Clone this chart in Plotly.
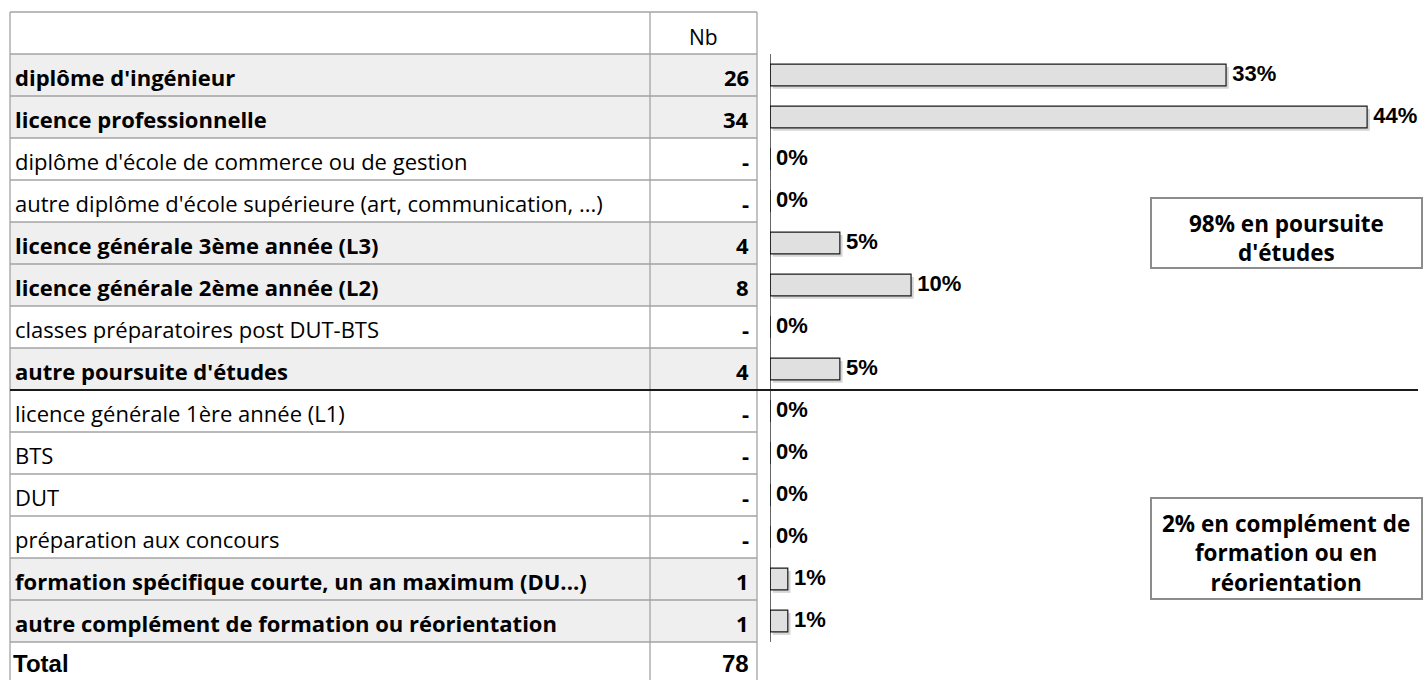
import plotly.graph_objects as go

# ---------------- data ----------------
categories = [
    "diplôme d'ingénieur",
    "licence professionnelle",
    "diplôme d'école de commerce ou de gestion",
    "autre diplôme d'école supérieure (art, communication, ...)",
    "licence générale 3ème année (L3)",
    "licence générale 2ème année (L2)",
    "classes préparatoires post DUT-BTS",
    "autre poursuite d'études",
    "licence générale 1ère année (L1)",
    "BTS",
    "DUT",
    "préparation aux concours",
    "formation spécifique courte, un an maximum (DU...)",
    "autre complément de formation ou réorientation",
]
counts = [26, 34, 0, 0, 4, 8, 0, 4, 0, 0, 0, 0, 1, 1]
percents = [33.3, 43.6, 0, 0, 5.1, 10.3, 0, 5.1, 0, 0, 0, 0, 1.3, 1.3]
total_label = "Total"
total_value = 78
header_label = "Nb"
box_texts = ["98% en poursuite<br>d'études",
             "2% en complément de<br>formation ou en<br>réorientation"]

# ---------------- geometry helpers ----------------
W, H = 1426, 680
ROW_H = 42.0
ROW0_CENTER = 33.0   # pixel centre of header row


def px(x):
    return x / W


rows = list(range(1, len(categories) + 1))          # data rows
total_row = len(categories) + 1
y_top = (0 - ROW0_CENTER) / ROW_H
y_bot = (H - ROW0_CENTER) / ROW_H

TABLE_L, COL_DIV, TABLE_R = 10, 650, 757
AXIS_X = 770

text_font = "'Open Sans', sans-serif"
num_font = "'Liberation Sans', Arial, sans-serif"
TXT_SIZE = 22

fig = go.Figure()

# shadow of bars
fig.add_trace(go.Bar(
    x=percents, y=rows, orientation="h", base=0.2,
    width=0.52, offset=-0.26 + 0.07,
    marker=dict(color="#d6d6d6", line=dict(width=0)),
    hoverinfo="skip", showlegend=False,
))
# bars
fig.add_trace(go.Bar(
    x=percents, y=rows, orientation="h",
    width=0.52, offset=-0.26,
    marker=dict(color="#e0e0e0", line=dict(color="#1a1a1a", width=1.2)),
    hoverinfo="skip", showlegend=False,
))
# percent labels
fig.add_trace(go.Scatter(
    x=percents, y=rows, mode="text",
    text=["\u00a0" + f"{round(v)}%" for v in percents],
    textposition="middle right",
    textfont=dict(family=num_font, size=22, color="#000000", weight="bold"),
    cliponaxis=False, hoverinfo="skip", showlegend=False,
))

shapes = []
annotations = []

# row fills (rows with non-zero values)
for r, c in zip(rows, counts):
    if c > 0:
        shapes.append(dict(type="rect", xref="paper", yref="y",
                           x0=px(TABLE_L), x1=px(TABLE_R), y0=r - 0.5, y1=r + 0.5,
                           fillcolor="#efefef", line=dict(width=0), layer="below"))

# horizontal table lines
for b in range(0, total_row + 1):
    shapes.append(dict(type="line", xref="paper", yref="y",
                       x0=px(TABLE_L), x1=px(TABLE_R), y0=b - 0.5, y1=b - 0.5,
                       line=dict(color="#a3a3a3", width=1.3)))
# vertical table lines
for xv in (TABLE_L, COL_DIV, TABLE_R):
    shapes.append(dict(type="line", xref="paper", yref="y",
                       x0=px(xv), x1=px(xv), y0=-0.5, y1=y_bot,
                       line=dict(color="#a3a3a3", width=1.3)))

# bar axis line
shapes.append(dict(type="line", xref="x", yref="y",
                   x0=0, x1=0, y0=0.5, y1=len(categories) + 0.5,
                   line=dict(color="#000000", width=1.2)))

# divider between the two groups
shapes.append(dict(type="line", xref="paper", yref="y",
                   x0=px(TABLE_L), x1=px(1418), y0=8.5, y1=8.5,
                   line=dict(color="#1a1a1a", width=2.2)))

# boxes
for (x0, x1, y0p, y1p) in [(1151, 1422, 198, 268), (1151, 1422, 498, 599)]:
    shapes.append(dict(type="rect", xref="paper", yref="paper",
                       x0=px(x0), x1=px(x1), y0=1 - y1p / H, y1=1 - y0p / H,
                       fillcolor="white", line=dict(color="#8c8c8c", width=2)))

# header
annotations.append(dict(xref="paper", yref="y", x=px((COL_DIV + TABLE_R) / 2), y=0,
                        text=header_label, showarrow=False, xanchor="center",
                        yanchor="middle", yshift=-4,
                        font=dict(family=text_font, size=TXT_SIZE - 1, color="#000")))

# data rows
for r, cat, c in zip(rows, categories, counts):
    bold = c > 0
    annotations.append(dict(xref="paper", yref="y", x=px(13), y=r,
                            text=f"<b>{cat}</b>" if bold else cat,
                            showarrow=False, xanchor="left", yanchor="middle",
                            yshift=-2,
                            font=dict(family=text_font, size=TXT_SIZE, color="#000")))
    annotations.append(dict(xref="paper", yref="y", x=px(751), y=r,
                            text=f"<b>{c}</b>" if c > 0 else "<b>-</b>",
                            showarrow=False, xanchor="right", yanchor="middle",
                            yshift=-2,
                            font=dict(family=text_font, size=TXT_SIZE, color="#000")))

# total row
annotations.append(dict(xref="paper", yref="y", x=px(11), y=total_row,
                        text=f"<b>{total_label}</b>", showarrow=False,
                        xanchor="left", yanchor="middle", yshift=0,
                        font=dict(family=num_font, size=24, color="#000")))
annotations.append(dict(xref="paper", yref="y", x=px(751), y=total_row,
                        text=f"<b>{total_value}</b>", showarrow=False,
                        xanchor="right", yanchor="middle", yshift=0,
                        font=dict(family=num_font, size=24, color="#000")))

# box texts
for txt, cy in zip(box_texts, [238, 553]):
    annotations.append(dict(xref="paper", yref="paper", x=px(1286), y=1 - cy / H,
                            text=f"<b>{txt}</b>", showarrow=False,
                            xanchor="center", yanchor="middle", align="center",
                            font=dict(family=text_font, size=22.5, color="#000")))

fig.update_layout(
    width=W, height=H,
    margin=dict(l=0, r=0, t=0, b=0),
    paper_bgcolor="white", plot_bgcolor="rgba(0,0,0,0)",
    barmode="overlay",
    showlegend=False,
    xaxis=dict(domain=[AXIS_X / W, 1], range=[0, 47.9], visible=False, fixedrange=True),
    yaxis=dict(domain=[0, 1], range=[y_bot, y_top], visible=False, fixedrange=True),
    shapes=shapes,
    annotations=annotations,
)

fig.write_html("out.html",
               config={"displayModeBar": False},
               post_script="document.body.style.margin='0';document.body.style.padding='0';")
